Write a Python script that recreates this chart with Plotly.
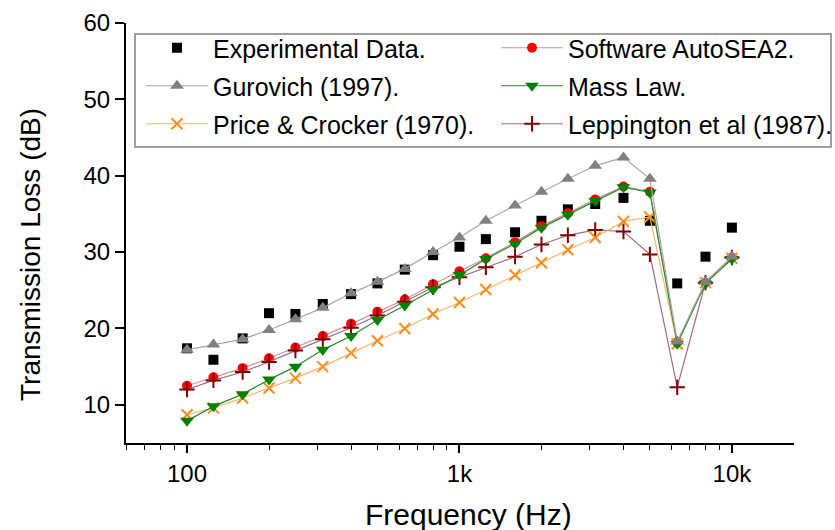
import plotly.graph_objects as go

freq = [100, 125, 160, 200, 250, 315, 400, 500, 630, 800, 1000, 1250, 1600,
        2000, 2500, 3150, 4000, 5000, 6300, 8000, 10000]
experimental = [17.4, 15.9, 18.7, 22.0, 21.9, 23.2, 24.5, 25.9, 27.7, 29.6, 30.7,
                31.7, 32.6, 34.1, 35.6, 36.3, 37.1, 34.1, 25.9, 29.4, 33.2]
gurovich = [17.2, 17.9, 18.6, 19.8, 21.2, 22.7, 24.6, 26.1, 27.8, 30.0, 31.9,
            34.1, 36.1, 37.9, 39.6, 41.3, 42.4, 39.6, 18.3, 26.1, 29.4]
autosea = [12.5, 13.6, 14.8, 16.1, 17.5, 19.0, 20.6, 22.2, 23.8, 25.8, 27.5,
           29.2, 31.3, 33.4, 35.1, 36.9, 38.6, 37.9, 18.2, 26.0, 29.3]
mass_law = [7.9, 9.8, 11.4, 13.3, 15.0, 17.2, 19.0, 21.1, 23.0, 25.1, 27.0,
            29.1, 31.1, 33.2, 34.9, 36.7, 38.5, 37.8, 18.0, 25.9, 29.1]
price = [8.7, 9.6, 10.9, 12.2, 13.5, 15.0, 16.8, 18.4, 20.0, 21.9, 23.4,
         25.1, 27.0, 28.6, 30.3, 31.9, 34.0, 34.6, 18.0, 26.0, 29.2]
leppington = [12.0, 13.2, 14.3, 15.6, 17.1, 18.6, 20.1, 21.7, 23.5, 25.4, 26.7,
              28.0, 29.4, 31.0, 32.2, 32.9, 32.7, 29.7, 12.3, 26.0, 29.3]

x_tickvals = [100, 1000, 10000]
x_ticktext = ["100", "1k", "10k"]
y_tickvals = [10, 20, 30, 40, 50, 60]

FONT = "Liberation Sans, Arial, sans-serif"

fig = go.Figure()

fig.add_trace(go.Scatter(
    x=freq, y=experimental, mode="markers", name="Experimental Data.",
    marker=dict(symbol="square", size=10, color="black"),
    legend="legend"))
fig.add_trace(go.Scatter(
    x=freq, y=autosea, mode="lines+markers", name="Software AutoSEA2.",
    line=dict(color="#d89090", width=1.2),
    marker=dict(symbol="circle", size=10, color="#ff0000"),
    legend="legend2"))
fig.add_trace(go.Scatter(
    x=freq, y=leppington, mode="lines+markers", name="Leppington et al (1987).",
    line=dict(color="#a06a85", width=1.2),
    marker=dict(symbol="cross-thin", size=11, color="#800000",
                line=dict(color="#800000", width=2)),
    legend="legend6"))
fig.add_trace(go.Scatter(
    x=freq, y=price, mode="lines+markers", name="Price & Crocker (1970).",
    line=dict(color="#f0b868", width=1.2),
    marker=dict(symbol="x-thin", size=11, color="#ff8c1a",
                line=dict(color="#ff8c1a", width=2)),
    legend="legend5"))
fig.add_trace(go.Scatter(
    x=freq, y=mass_law, mode="lines+markers", name="Mass Law.",
    line=dict(color="#2a8a2a", width=1.2),
    marker=dict(symbol="triangle-down", size=12, color="#008000"),
    legend="legend4"))
fig.add_trace(go.Scatter(
    x=freq, y=gurovich, mode="lines+markers", name="Gurovich (1997).",
    line=dict(color="#a8a8a8", width=1.2),
    marker=dict(symbol="triangle-up", size=12, color="#808080"),
    legend="legend3"))

L, R, T, B = 126, 41, 23, 87
W, H = 835, 530
pw, ph = W - L - R, H - T - B


def px(xp):
    return (xp - L) / pw


def py(yp):
    return (H - B - yp) / ph


leg_common = dict(xanchor="left", yanchor="middle",
                  bgcolor="rgba(0,0,0,0)", borderwidth=0, itemwidth=62,
                  font=dict(family=FONT, size=25, color="black"))

col1, col2 = 141, 496
rows = [48, 86, 124]

fig.update_layout(
    width=W, height=H,
    margin=dict(l=L, r=R, t=T, b=B, autoexpand=False),
    paper_bgcolor="white", plot_bgcolor="white",
    font=dict(family=FONT, color="black"),
    showlegend=True,
    legend=dict(x=px(col1), y=py(rows[0]), **leg_common),
    legend2=dict(x=px(col2), y=py(rows[0]), **leg_common),
    legend3=dict(x=px(col1), y=py(rows[1]), **leg_common),
    legend4=dict(x=px(col2), y=py(rows[1]), **leg_common),
    legend5=dict(x=px(col1), y=py(rows[2]), **leg_common),
    legend6=dict(x=px(col2), y=py(rows[2]), **leg_common),
    xaxis=dict(
        type="log", range=[1.776, 4.228],
        tickvals=x_tickvals, ticktext=x_ticktext,
        ticks="outside", ticklen=8, tickwidth=1.5, tickcolor="black",
        showline=True, linecolor="black", linewidth=2,
        showgrid=False, zeroline=False,
        minor=dict(ticks="outside", ticklen=5, tickwidth=1.2,
                   tickcolor="black", dtick="D1", showgrid=False),
        tickfont=dict(family=FONT, size=24, color="black"),
    ),
    yaxis=dict(
        range=[5, 60],
        tickvals=y_tickvals,
        ticks="outside", ticklen=9, tickwidth=1.5, tickcolor="black",
        showline=True, linecolor="black", linewidth=2,
        showgrid=False, zeroline=False,
        tickfont=dict(family=FONT, size=24, color="black"),
    ),
    annotations=[
        dict(text="Frequency (Hz)", xref="paper", yref="paper",
             x=px(468), y=py(514), xanchor="center", yanchor="middle",
             showarrow=False, font=dict(family=FONT, size=30, color="black")),
        dict(text="Transmission Loss (dB)", xref="paper", yref="paper",
             x=px(30), y=py(255), xanchor="center", yanchor="middle",
             textangle=-90, showarrow=False,
             font=dict(family=FONT, size=28, color="black")),
    ],
    shapes=[dict(type="rect", xref="paper", yref="paper",
                 x0=px(135), x1=px(831), y0=py(147), y1=py(34),
                 line=dict(color="#808080", width=1.5),
                 fillcolor="rgba(0,0,0,0)", layer="below")],
)

fig.write_html("out.html")
